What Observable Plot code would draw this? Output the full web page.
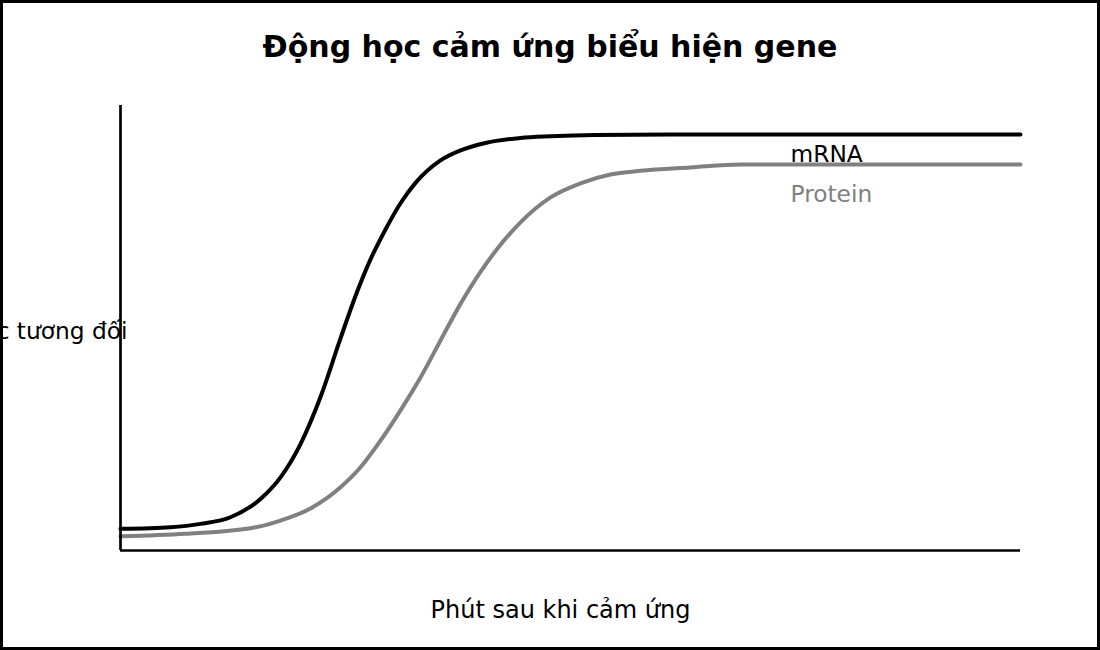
<!DOCTYPE html>
<html>
<head>
<meta charset="utf-8">
<script src="https://cdn.jsdelivr.net/npm/d3@7"></script>
<script src="https://cdn.jsdelivr.net/npm/@observablehq/plot@0.6"></script>
<style>
  html, body { margin: 0; padding: 0; background: white; }
  #frame { position: relative; width: 1100px; height: 650px; overflow: hidden; background: white; font-family: "DejaVu Sans", sans-serif; }
  #border { position: absolute; inset: 0; border: 3px solid black; box-sizing: border-box; pointer-events: none; z-index: 5; }
  #title { position: absolute; top: 27px; left: 0; width: 1100px; text-align: center; font-weight: bold; font-size: 30px; line-height: 40px; color: black; z-index: 2; }
  #chart { position: absolute; left: 0; top: 0; }
</style>
</head>
<body>
<div id="frame">
  <div id="title"></div>
  <div id="chart"></div>
  <div id="border"></div>
</div>
<script>
const titleText = "Động học cảm ứng biểu hiện gene";
const xLabel = "Phút sau khi cảm ứng";
const yLabel = "Mức tương đối";
const seriesNames = ["mRNA", "Protein"];
const seriesColors = ["black", "#808080"];

const mrnaTime  = [0, 10, 16, 22, 28, 32, 36, 40, 44, 47, 50, 53, 56, 59, 64, 68, 73, 80, 86, 95, 110, 180];
const mrnaLevel = [0.052, 0.056, 0.064, 0.080, 0.124, 0.176, 0.256, 0.369, 0.510, 0.612, 0.700, 0.772, 0.835, 0.884, 0.938, 0.962, 0.980, 0.992, 0.996, 0.999, 1.0, 1.0];

const proteinTime  = [0, 13, 27, 32, 38, 44, 48, 52, 56, 60, 64, 68, 72, 76, 80, 86, 92, 98, 104, 114, 124, 180];
const proteinLevel = [0.034, 0.040, 0.056, 0.072, 0.101, 0.152, 0.200, 0.264, 0.337, 0.416, 0.505, 0.593, 0.670, 0.735, 0.789, 0.849, 0.883, 0.904, 0.913, 0.921, 0.928, 0.928];

document.getElementById("title").textContent = titleText;

const mrna = mrnaTime.map((t, i) => ({t, v: mrnaLevel[i], s: seriesNames[0]}));
const protein = proteinTime.map((t, i) => ({t, v: proteinLevel[i], s: seriesNames[1]}));

const chart = Plot.plot({
  width: 1100,
  height: 650,
  marginLeft: 120,
  marginRight: 80,
  marginTop: 105,
  marginBottom: 100,
  style: {fontFamily: "DejaVu Sans, sans-serif", background: "white", overflow: "hidden"},
  x: {domain: [0, 180], axis: null},
  y: {domain: [0, 1.07], axis: null},
  marks: [
    Plot.line(protein, {x: "t", y: "v", stroke: seriesColors[1], strokeWidth: 4, curve: "monotone-x"}),
    Plot.line(mrna, {x: "t", y: "v", stroke: seriesColors[0], strokeWidth: 4, curve: "monotone-x"}),
    Plot.ruleX([0], {stroke: "black", strokeWidth: 2.7}),
    Plot.ruleY([0], {stroke: "black", strokeWidth: 2.7}),
    Plot.text([seriesNames[0]], {frameAnchor: "top-left", dx: 670, dy: 49, text: d => d, textAnchor: "start", lineAnchor: "middle", fill: seriesColors[0], fontSize: 23.3}),
    Plot.text([seriesNames[1]], {frameAnchor: "top-left", dx: 670, dy: 89, text: d => d, textAnchor: "start", lineAnchor: "middle", fill: seriesColors[1], fontSize: 23.3}),
    Plot.text([xLabel], {frameAnchor: "bottom", dx: -10, dy: 60, text: d => d, lineAnchor: "middle", fill: "black", fontSize: 24}),
    Plot.text([yLabel], {frameAnchor: "left", dx: 7, dy: 4, text: d => d, textAnchor: "end", lineAnchor: "middle", fill: "black", fontSize: 23.3})
  ]
});
document.getElementById("chart").appendChild(chart);
</script>
</body>
</html>
